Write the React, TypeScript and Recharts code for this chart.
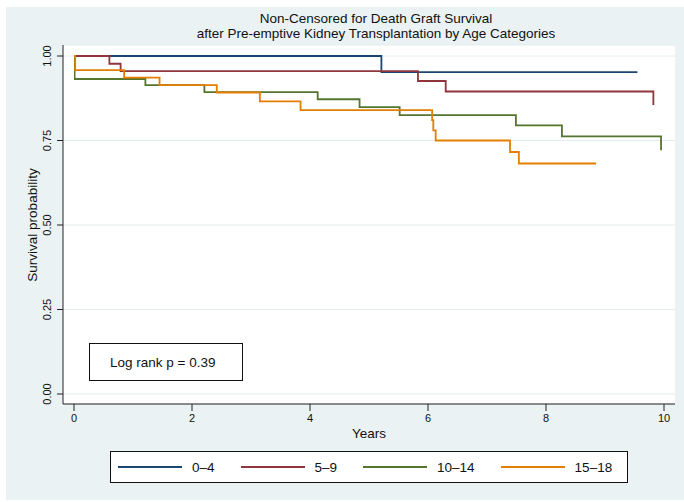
import { CartesianGrid, Line, LineChart, XAxis, YAxis } from "recharts";

const FONT = "'Liberation Sans', Arial, Helvetica, sans-serif";

const xTicks = [0, 2, 4, 6, 8, 10];
const yTicks = [0, 0.25, 0.5, 0.75, 1];

// Kaplan-Meier steps: time in years, survival probability
const age0to4Years = [0, 5.21, 9.55];
const age0to4Surv = [1, 0.952, 0.952];

const age5to9Years = [0, 0.6, 0.79, 5.83, 6.3, 9.82];
const age5to9Surv = [1, 0.977, 0.955, 0.926, 0.895, 0.855];

const age10to14Years = [0, 0.01, 1.21, 2.21, 4.13, 4.84, 5.52, 7.49, 8.27, 9.95];
const age10to14Surv = [1, 0.932, 0.914, 0.893, 0.872, 0.849, 0.825, 0.795, 0.762, 0.721];

const age15to18Years = [0, 0.02, 0.85, 1.45, 2.42, 3.15, 3.84, 6.07, 6.09, 6.13, 7.39, 7.54, 8.85];
const age15to18Surv = [1, 0.958, 0.936, 0.914, 0.892, 0.866, 0.84, 0.81, 0.78, 0.75, 0.716, 0.682, 0.682];

const toSeries = (years: number[], surv: number[]) =>
  years.map((t, i) => ({ t, s: surv[i] }));

const groups = [
  { name: "0–4", color: "#1a476f", data: toSeries(age0to4Years, age0to4Surv) },
  { name: "5–9", color: "#90353b", data: toSeries(age5to9Years, age5to9Surv) },
  { name: "10–14", color: "#55752f", data: toSeries(age10to14Years, age10to14Surv) },
  { name: "15–18", color: "#e37e00", data: toSeries(age15to18Years, age15to18Surv) }
];

function YTick({ x, y, payload }: any) {
  return (
    <text
      transform={`translate(${x - 8},${y}) rotate(-90)`}
      textAnchor="middle"
      dy="0.35em"
      fontSize={11}
      fontFamily={FONT}
      fill="#111"
    >
      {Number(payload.value).toFixed(2)}
    </text>
  );
}

export default function App() {
  return (
    <div
      style={{
        position: "absolute",
        left: 0,
        top: 0,
        width: 684,
        height: 502,
        fontFamily: FONT,
        color: "#111",
        background: "#fff"
      }}
    >
      <div
        style={{
          position: "absolute",
          left: 6,
          top: 7,
          width: 678,
          height: 493,
          background: "#eaf2f3"
        }}
      />
      <div
        style={{
          position: "absolute",
          left: 70,
          width: 612,
          top: 11,
          textAlign: "center",
          fontSize: 13.5,
          lineHeight: "15px"
        }}
      >
        Non-Censored for Death Graft Survival
        <br />
        after Pre-emptive Kidney Transplantation by Age Categories
      </div>

      <div style={{ position: "absolute", left: 0, top: 0 }}>
        <LineChart
          width={684}
          height={502}
          margin={{ top: 45, right: 9, bottom: 68, left: 33 }}
        >
          <CartesianGrid
            fill="#fff"
            stroke="#e3ecee"
            strokeWidth={1}
            vertical={false}
          />
          <XAxis
            type="number"
            dataKey="t"
            domain={[0, 10]}
            ticks={xTicks}
            padding={{ left: 11, right: 11 }}
            height={30}
            tickSize={7}
            tickMargin={3}
            stroke="#222"
            tick={{ fontSize: 11, fontFamily: FONT, fill: "#111" }}
            allowDataOverflow
          />
          <YAxis
            type="number"
            dataKey="s"
            domain={[0, 1]}
            ticks={yTicks}
            padding={{ top: 11, bottom: 10 }}
            width={30}
            tickSize={6}
            tickMargin={2}
            stroke="#222"
            tick={<YTick />}
          />
          {groups.map((g) => (
            <Line
              key={g.name}
              data={g.data}
              dataKey="s"
              name={g.name}
              type="stepAfter"
              stroke={g.color}
              strokeWidth={1.8}
              dot={false}
              activeDot={false}
              isAnimationActive={false}
            />
          ))}
        </LineChart>
      </div>

      <div
        style={{
          position: "absolute",
          left: 32,
          top: 225,
          transform: "translate(-50%, -50%) rotate(-90deg)",
          fontSize: 13.5,
          whiteSpace: "nowrap"
        }}
      >
        Survival probability
      </div>
      <div
        style={{
          position: "absolute",
          left: 369,
          top: 433,
          transform: "translate(-50%, -50%)",
          fontSize: 13.5
        }}
      >
        Years
      </div>

      <div
        style={{
          position: "absolute",
          left: 89,
          top: 343,
          width: 154,
          height: 38,
          boxSizing: "border-box",
          border: "1px solid #111",
          background: "#fff",
          display: "flex",
          alignItems: "center",
          paddingLeft: 20,
          fontSize: 13.5
        }}
      >
        Log rank p = 0.39
      </div>

      <div
        style={{
          position: "absolute",
          left: 110,
          top: 451,
          width: 518,
          height: 32,
          boxSizing: "border-box",
          border: "1px solid #111",
          background: "#fff",
          display: "flex",
          alignItems: "center",
          paddingLeft: 7,
          gap: 26,
          fontSize: 13.5
        }}
      >
        {groups.map((g) => (
          <div key={g.name} style={{ display: "flex", alignItems: "center" }}>
            <div
              style={{
                width: 64,
                height: 2,
                background: g.color,
                marginRight: 10
              }}
            />
            <span>{g.name}</span>
          </div>
        ))}
      </div>
    </div>
  );
}
